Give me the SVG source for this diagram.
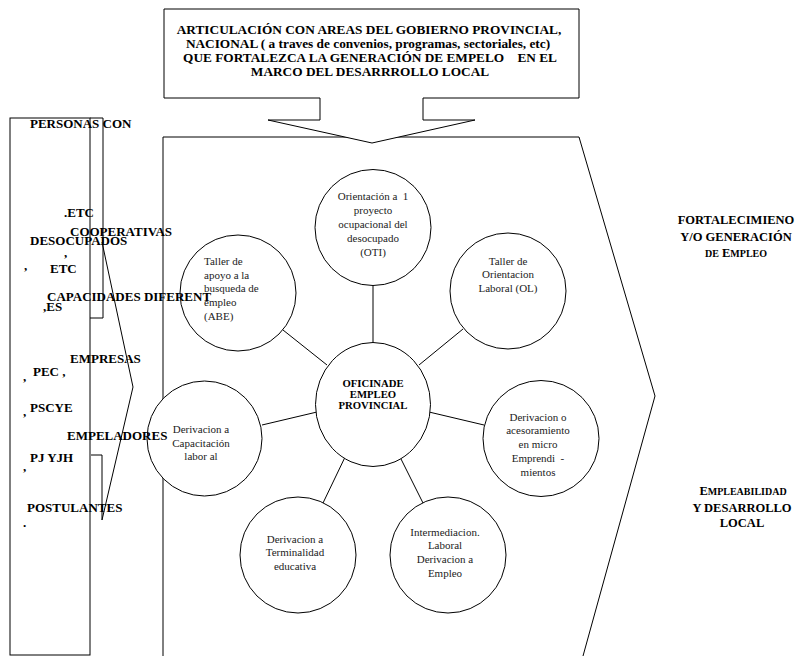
<svg xmlns="http://www.w3.org/2000/svg" width="803" height="656" viewBox="0 0 803 656">
<style>
.ln{fill:none;stroke:#000;stroke-width:1}
.nd{fill:#fff;stroke:#000;stroke-width:1}
text{font-family:'Liberation Serif','Times New Roman',serif}
.t{font-weight:bold;font-size:13.3px;fill:#000;text-anchor:middle}
.b{font-weight:bold;font-size:13px;fill:#000}
.c{font-size:11px;fill:#222;text-anchor:middle}
.cl{font-size:11px;fill:#222}
.cb{font-weight:bold;font-size:10.7px;fill:#000;text-anchor:middle}
.r{font-weight:bold;font-size:12.5px;fill:#000;text-anchor:middle}
.sc{font-size:10px}
</style>
<rect width="803" height="656" fill="#fff"/>

<g id="marco">
<path class="ln" d="M163,656 V137 H579 L655,396 L583,656"/>
</g>

<g id="articulacion">
<path class="nd" d="M164,9 H579 V98 H423 V120 H475 L372,143 L268,120 H320 V98 H164 Z"/>
<text class="t" x="369" y="34">ARTICULACIÓN CON AREAS DEL GOBIERNO PROVINCIAL,</text>
<text class="t" x="368" y="48">NACIONAL ( a traves de convenios,  programas, sectoriales, etc)</text>
<text class="t" x="370" y="62" xml:space="preserve">QUE FORTALEZCA LA GENERACIÓN DE EMPELO    EN EL</text>
<text class="t" x="370" y="76">MARCO DEL DESARRROLLO LOCAL</text>
</g>

<g id="connectors">
<line class="ln" x1="373" y1="285" x2="373" y2="343"/>
<line class="ln" x1="283" y1="330" x2="327" y2="365"/>
<line class="ln" x1="463" y1="329" x2="419" y2="365"/>
<line class="ln" x1="262" y1="425" x2="317" y2="412"/>
<line class="ln" x1="429" y1="412" x2="484" y2="425"/>
<line class="ln" x1="347" y1="453" x2="323" y2="503"/>
<line class="ln" x1="398" y1="453" x2="423" y2="503"/>
</g>

<g id="oti">
<circle class="nd" cx="373" cy="227.5" r="58"/>
<text class="c" x="373" y="200" xml:space="preserve">Orientación a  1</text>
<text class="c" x="373" y="214">proyecto</text>
<text class="c" x="373" y="228">ocupacional del</text>
<text class="c" x="373" y="242">desocupado</text>
<text class="c" x="373" y="256">(OTI)</text>
</g>

<g id="abe">
<circle class="nd" cx="238" cy="293" r="58"/>
<text class="cl" x="204" y="265">Taller de</text>
<text class="cl" x="204" y="279">apoyo a la</text>
<text class="cl" x="204" y="292">busqueda de</text>
<text class="cl" x="204" y="306">empleo</text>
<text class="cl" x="204" y="320">(ABE)</text>
</g>

<g id="ol">
<circle class="nd" cx="508" cy="291" r="58"/>
<text class="c" x="508" y="265">Taller de</text>
<text class="c" x="508" y="278">Orientacion</text>
<text class="c" x="508" y="292">Laboral (OL)</text>
</g>

<g id="oficina">
<ellipse class="nd" cx="373" cy="404.5" rx="57.5" ry="62"/>
<text class="cb" x="373" y="387">OFICINADE</text>
<text class="cb" x="373" y="398">EMPLEO</text>
<text class="cb" x="373" y="409">PROVINCIAL</text>
</g>

<g id="capacitacion">
<circle class="nd" cx="204.5" cy="438.5" r="57.5"/>
<text class="c" x="201" y="433">Derivacion a</text>
<text class="c" x="201" y="447">Capacitación</text>
<text class="c" x="201" y="460">labor al</text>
</g>

<g id="micro">
<circle class="nd" cx="541" cy="438.5" r="58"/>
<text class="c" x="538" y="421">Derivacion o</text>
<text class="c" x="538" y="434">acesoramiento</text>
<text class="c" x="538" y="448">en micro</text>
<text class="c" x="538" y="462" xml:space="preserve">Emprendi  -</text>
<text class="c" x="538" y="476">mientos</text>
</g>

<g id="terminalidad">
<circle class="nd" cx="298" cy="555" r="58"/>
<text class="c" x="295" y="543">Derivacion a</text>
<text class="c" x="295" y="556">Terminalidad</text>
<text class="c" x="295" y="570">educativa</text>
</g>

<g id="intermediacion">
<circle class="nd" cx="448" cy="555" r="58"/>
<text class="c" x="445" y="536">Intermediacion.</text>
<text class="c" x="445" y="549">Laboral</text>
<text class="c" x="445" y="563">Derivacion a</text>
<text class="c" x="445" y="577">Empleo</text>
</g>

<g id="poblacion">
<rect class="ln" x="10" y="118" width="80" height="537"/>
<path class="ln" d="M90,118 H103 V318 H90"/>
<path class="ln" d="M91,455 H102 V520"/>
<polyline class="ln" points="102,242 133,387 102,520"/>
<text class="b" x="30" y="128">PERSONAS CON</text>
<text class="b" x="64" y="217">.ETC</text>
<text class="b" x="70" y="236">COOPERATIVAS</text>
<text class="b" x="30" y="245">DESOCUPADOS</text>
<text class="b" x="64" y="257">,</text>
<text class="b" x="24" y="270">,</text>
<text class="b" x="50" y="273">ETC</text>
<text class="b" x="47" y="301">CAPACIDADES DIFERENT</text>
<text class="b" x="43" y="311">,ES</text>
<text class="b" x="70" y="363">EMPRESAS</text>
<text class="b" x="23" y="381">,</text>
<text class="b" x="33" y="376">PEC ,</text>
<text class="b" x="23" y="416">,</text>
<text class="b" x="30" y="412">PSCYE</text>
<text class="b" x="67" y="440">EMPELADORES</text>
<text class="b" x="30" y="462">PJ YJH</text>
<text class="b" x="23" y="471">,</text>
<text class="b" x="27" y="512">POSTULANTES</text>
<text class="b" x="23" y="527">.</text>
</g>

<g id="fortalecimiento">
<text class="r" x="736" y="224">FORTALECIMIENO</text>
<text class="r" x="736" y="241">Y/O GENERACIÓN</text>
<text class="r" x="736" y="257"><tspan class="sc">DE</tspan> E<tspan class="sc">MPLEO</tspan></text>
</g>

<g id="empleabilidad">
<text class="r" x="743" y="495">E<tspan class="sc">MPLEABILIDAD</tspan></text>
<text class="r" x="742" y="512">Y DESARROLLO</text>
<text class="r" x="742" y="527">LOCAL</text>
</g>
</svg>
